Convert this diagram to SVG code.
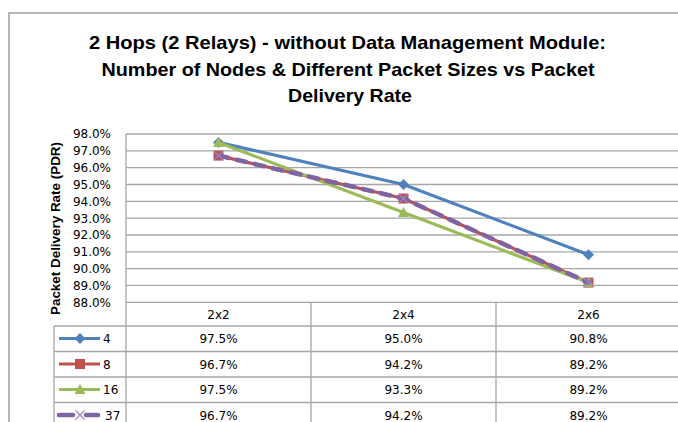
<svg xmlns="http://www.w3.org/2000/svg" width="678" height="422" viewBox="0 0 678 422">
  <style>
    .frame { fill: #ffffff; stroke: #a0a0a0; stroke-width: 1.5; }
    .grid { stroke: #a6a6a6; stroke-width: 1.3; fill: none; }
    .cell { stroke: #a6a6a6; stroke-width: 1.3; fill: none; }
    .title { font-family: "Liberation Sans", Arial, sans-serif; font-weight: bold; font-size: 19px; fill: #000; text-anchor: middle; }
    .axis-title { font-family: "Liberation Sans", Arial, sans-serif; font-weight: bold; font-size: 13px; fill: #000; text-anchor: middle; }
    .tick { font-family: "DejaVu Sans", Verdana, sans-serif; font-size: 12px; fill: #000; text-anchor: end; }
    .val { font-family: "DejaVu Sans", Verdana, sans-serif; font-size: 12px; fill: #000; text-anchor: middle; }
    .lbl { font-family: "DejaVu Sans", Verdana, sans-serif; font-size: 12px; fill: #000; text-anchor: start; }
    .s-blue { stroke: #4f81bd; stroke-width: 3.2; fill: none; stroke-linejoin: round; }
    .s-red { stroke: #c0504d; stroke-width: 3.2; fill: none; stroke-linejoin: round; }
    .s-green { stroke: #9bbb59; stroke-width: 3.2; fill: none; stroke-linejoin: round; }
    .s-purple { stroke: #8064a2; stroke-width: 4.6; fill: none; stroke-linecap: round; stroke-dasharray: 10 8.5; }
  </style>
  <defs>
    <path id="diamond" d="M0,-5.5 L5.5,0 L0,5.5 L-5.5,0 Z" fill="#4f81bd"/>
    <rect id="square" x="-5" y="-5" width="10" height="10" fill="#c0504d"/>
    <path id="triangle" d="M0,-5.5 L5.5,4.5 L-5.5,4.5 Z" fill="#9bbb59"/>
    <path id="cross" d="M-4.5,-4.5 L4.5,4.5 M-4.5,4.5 L4.5,-4.5" stroke="#9d87c0" stroke-width="1.2" fill="none"/>
  </defs>

  <!-- chart frame -->
  <rect class="frame" x="9" y="13" width="680" height="420"/>

  <!-- title -->
  <g id="title">
    <text class="title" x="347.5" y="49" textLength="517" lengthAdjust="spacingAndGlyphs">2 Hops (2 Relays) - without Data Management Module:</text>
    <text class="title" x="348" y="76" textLength="493" lengthAdjust="spacingAndGlyphs">Number of Nodes  &amp; Different Packet Sizes vs Packet</text>
    <text class="title" x="350" y="102" textLength="124" lengthAdjust="spacingAndGlyphs">Delivery Rate</text>
  </g>

  <!-- value axis -->
  <g id="axis-title">
    <text class="axis-title" transform="translate(60,228.5) rotate(-90)" textLength="173" lengthAdjust="spacingAndGlyphs">Packet Delivery Rate (PDR)</text>
  </g>
  <g id="gridlines">
    <path class="grid" d="M126,134 H678 M126,150.83 H678 M126,167.66 H678 M126,184.49 H678 M126,201.32 H678 M126,218.15 H678 M126,234.98 H678 M126,251.81 H678 M126,268.64 H678 M126,285.47 H678 M126,302.3 H678"/>
    <path class="grid" d="M126,134 V422"/>
  </g>
  <g id="ticks">
    <text class="tick" x="111" y="138.4">98.0%</text>
    <text class="tick" x="111" y="155.2">97.0%</text>
    <text class="tick" x="111" y="172.1">96.0%</text>
    <text class="tick" x="111" y="188.9">95.0%</text>
    <text class="tick" x="111" y="205.7">94.0%</text>
    <text class="tick" x="111" y="222.6">93.0%</text>
    <text class="tick" x="111" y="239.4">92.0%</text>
    <text class="tick" x="111" y="256.2">91.0%</text>
    <text class="tick" x="111" y="273.0">90.0%</text>
    <text class="tick" x="111" y="289.9">89.0%</text>
    <text class="tick" x="111" y="306.7">88.0%</text>
  </g>

  <!-- data table -->
  <g id="table">
    <path class="cell" d="M311,302.3 V422 M496,302.3 V422 M54,326 V422"/>
    <path class="cell" d="M54,326 H678 M54,351.5 H678 M54,377 H678 M54,402.5 H678"/>
    <text class="val" x="218.5" y="318.5">2x2</text>
    <text class="val" x="403.5" y="318.5">2x4</text>
    <text class="val" x="588.5" y="318.5">2x6</text>

    <text class="val" x="218.5" y="343">97.5%</text>
    <text class="val" x="403.5" y="343">95.0%</text>
    <text class="val" x="588.5" y="343">90.8%</text>

    <text class="val" x="218.5" y="368.5">96.7%</text>
    <text class="val" x="403.5" y="368.5">94.2%</text>
    <text class="val" x="588.5" y="368.5">89.2%</text>

    <text class="val" x="218.5" y="394">97.5%</text>
    <text class="val" x="403.5" y="394">93.3%</text>
    <text class="val" x="588.5" y="394">89.2%</text>

    <text class="val" x="218.5" y="419.5">96.7%</text>
    <text class="val" x="403.5" y="419.5">94.2%</text>
    <text class="val" x="588.5" y="419.5">89.2%</text>
  </g>

  <!-- legend keys -->
  <g id="legend">
    <path class="s-blue" d="M59,338.5 H100"/>
    <use href="#diamond" x="80" y="338.5"/>
    <text class="lbl" x="103" y="343">4</text>

    <path class="s-red" d="M59,364 H100"/>
    <use href="#square" x="80" y="364"/>
    <text class="lbl" x="103" y="368.5">8</text>

    <path class="s-green" d="M59,389.5 H100"/>
    <use href="#triangle" x="80" y="389.5"/>
    <text class="lbl" x="103" y="394">16</text>

    <path stroke="#8064a2" stroke-width="4.6" stroke-linecap="round" fill="none" d="M59,415 H73 M86,415 H98"/>
    <use href="#cross" x="80" y="415"/>
    <text class="lbl" x="105" y="419.5">37</text>
  </g>

  <!-- series -->
  <g id="series-4">
    <path class="s-blue" d="M218.5,142.4 L403.5,184.5 L588.5,254.7"/>
    <use href="#diamond" x="218.5" y="142.4"/>
    <use href="#diamond" x="403.5" y="184.5"/>
    <use href="#diamond" x="588.5" y="254.7"/>
  </g>
  <g id="series-8">
    <path class="s-red" d="M218.5,155.6 L403.5,198.5 L588.5,282.6"/>
    <use href="#square" x="218.5" y="155.6"/>
    <use href="#square" x="403.5" y="198.5"/>
    <use href="#square" x="588.5" y="282.6"/>
  </g>
  <g id="series-16">
    <path class="s-green" d="M218.5,142.4 L403.5,212.6 L588.5,282.6"/>
    <use href="#triangle" x="218.5" y="142.4"/>
    <use href="#triangle" x="403.5" y="212.6"/>
    <use href="#triangle" x="588.5" y="282.6"/>
  </g>
  <g id="series-37">
    <path class="s-purple" d="M218.5,155.6 L403.5,198.5 L588.5,282.6"/>
    <use href="#cross" x="218.5" y="155.6"/>
    <use href="#cross" x="403.5" y="198.5"/>
    <use href="#cross" x="588.5" y="282.6"/>
  </g>
</svg>
